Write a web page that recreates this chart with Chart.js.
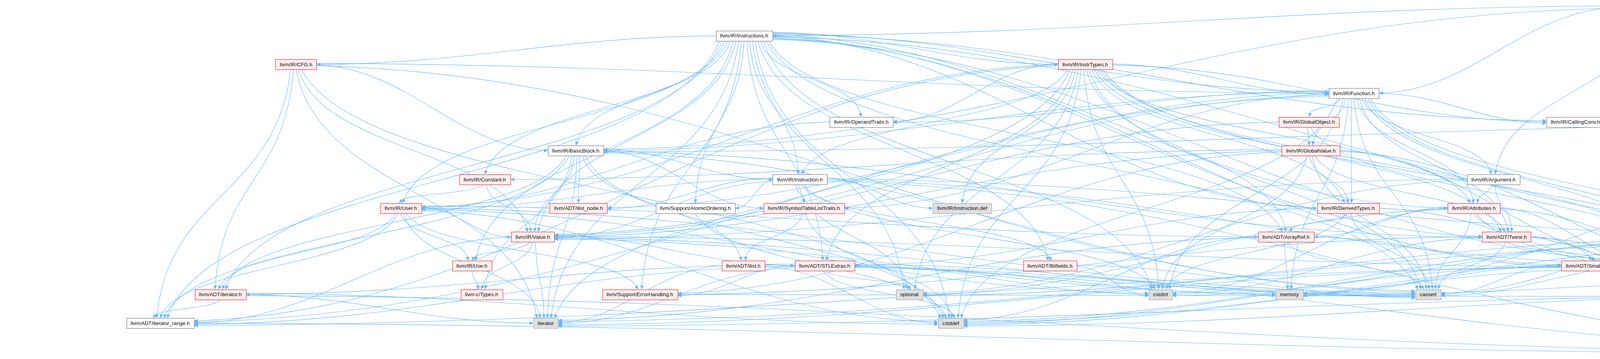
<!DOCTYPE html>
<html>
<head>
<meta charset="utf-8">
<title>SSAContext.cpp include graph</title>
<script src="https://cdn.jsdelivr.net/npm/chart.js@4.4.0/dist/chart.umd.min.js"></script>
<style>
  html, body { margin: 0; padding: 0; background: #fff; overflow: hidden; }
  #wrap { width: 5619px; height: 920px; }
</style>
</head>
<body>
<div id="wrap"><canvas id="graph" width="5619" height="920"></canvas></div>
<script>
// nodes of the include graph: id, label, x position (graph units), rank (row), kind
const nodeIds = [
  'root', 'instrs', 'cfg', 'instrtypes', 'function', 'optraits', 'globalobject', 'callingconv', 'ssah',
  'bb', 'globalvalue', 'genericssa', 'constant', 'instruction', 'argument', 'printable',
  'user', 'ilistnode', 'atomic', 'stlt', 'instrdef', 'derivedtypes', 'attributes',
  'value', 'arrayref', 'twine', 'rawostream', 'debugloc', 'mapvector',
  'use', 'ilist', 'stlextras', 'bitfields', 'smallvector', 'stringref', 'datatypes', 'mst',
  'iterh', 'types', 'errh', 'optional', 'cstdint', 'memory', 'cassert', 'string', 'denseset',
  'iterrange', 'iterstd', 'cstddef', 'utility'
];
const nodeLabels = [
  'lib/IR/SSAContext.cpp', 'llvm/IR/Instructions.h', 'llvm/IR/CFG.h', 'llvm/IR/InstrTypes.h', 'llvm/IR/Function.h',
  'llvm/IR/OperandTraits.h', 'llvm/IR/GlobalObject.h', 'llvm/IR/CallingConv.h', 'llvm/IR/SSAContext.h',
  'llvm/IR/BasicBlock.h', 'llvm/IR/GlobalValue.h', 'llvm/ADT/GenericSSAContext.h', 'llvm/IR/Constant.h',
  'llvm/IR/Instruction.h', 'llvm/IR/Argument.h', 'llvm/Support/Printable.h',
  'llvm/IR/User.h', 'llvm/ADT/ilist_node.h', 'llvm/Support/AtomicOrdering.h', 'llvm/IR/SymbolTableListTraits.h',
  'llvm/IR/Instruction.def', 'llvm/IR/DerivedTypes.h', 'llvm/IR/Attributes.h',
  'llvm/IR/Value.h', 'llvm/ADT/ArrayRef.h', 'llvm/ADT/Twine.h', 'llvm/Support/raw_ostream.h', 'llvm/IR/DebugLoc.h',
  'llvm/ADT/MapVector.h',
  'llvm/IR/Use.h', 'llvm/ADT/ilist.h', 'llvm/ADT/STLExtras.h', 'llvm/ADT/Bitfields.h', 'llvm/ADT/SmallVector.h',
  'llvm/ADT/StringRef.h', 'llvm/Support/DataTypes.h', 'llvm/IR/ModuleSlotTracker.h',
  'llvm/ADT/iterator.h', 'llvm-c/Types.h', 'llvm/Support/ErrorHandling.h', 'optional', 'cstdint', 'memory',
  'cassert', 'string', 'llvm/ADT/DenseSet.h',
  'llvm/ADT/iterator_range.h', 'iterator', 'cstddef', 'utility'
];
const nodeX = [
  4220, 1905, 758, 2778, 3466, 2205, 3351, 4033, 5187,
  1474, 3356, 5509, 1241, 2048, 3823, 5497,
  1026, 1481, 1780, 2058, 2463, 3451, 3773,
  1364, 3292, 3857, 4492, 4677, 4846,
  1208, 1903, 2111, 2688, 4078, 4308, 4643, 5366,
  564, 1233, 1638, 2328, 2971, 3301, 3656, 4644, 4769,
  410, 1397, 2434, 4881
];
const nodeRank = [
  0, 1, 2, 2, 3, 4, 4, 4, 4,
  5, 5, 5, 6, 6, 6, 6,
  7, 7, 7, 7, 7, 7, 7,
  8, 8, 8, 8, 8, 8,
  9, 9, 9, 9, 9, 9, 9, 9,
  10, 10, 10, 10, 10, 10, 10, 10, 10,
  11, 11, 11, 12
];
// root = the file itself, file = fully shown header, trunc = header with hidden includes, sys = system header
const nodeKind = [
  'root', 'file', 'trunc', 'trunc', 'file', 'file', 'trunc', 'file', 'file',
  'file', 'trunc', 'file', 'trunc', 'file', 'file', 'trunc',
  'trunc', 'trunc', 'file', 'trunc', 'sys', 'trunc', 'trunc',
  'trunc', 'trunc', 'trunc', 'trunc', 'trunc', 'trunc',
  'trunc', 'trunc', 'trunc', 'trunc', 'trunc', 'trunc', 'trunc', 'trunc',
  'trunc', 'trunc', 'trunc', 'sys', 'sys', 'sys', 'sys', 'sys', 'trunc',
  'file', 'sys', 'sys', 'sys'
];

// include edges: [includer, included]
const edges = [
  ['root', 'ssah'], ['root', 'argument'], ['root', 'bb'], ['root', 'function'], ['root', 'instrs'], ['root', 'rawostream'],

  ['instrs', 'arrayref'], ['instrs', 'bitfields'], ['instrs', 'mapvector'], ['instrs', 'stlextras'], ['instrs', 'smallvector'],
  ['instrs', 'stringref'], ['instrs', 'twine'], ['instrs', 'iterh'], ['instrs', 'iterrange'], ['instrs', 'attributes'],
  ['instrs', 'bb'], ['instrs', 'callingconv'], ['instrs', 'cfg'], ['instrs', 'constant'], ['instrs', 'derivedtypes'],
  ['instrs', 'function'], ['instrs', 'instrtypes'], ['instrs', 'instruction'], ['instrs', 'optraits'], ['instrs', 'use'],
  ['instrs', 'user'], ['instrs', 'value'], ['instrs', 'atomic'], ['instrs', 'errh'], ['instrs', 'cassert'],
  ['instrs', 'cstddef'], ['instrs', 'cstdint'], ['instrs', 'iterstd'], ['instrs', 'optional'],

  ['cfg', 'iterh'], ['cfg', 'iterrange'], ['cfg', 'bb'], ['cfg', 'function'], ['cfg', 'value'], ['cfg', 'cassert'],
  ['cfg', 'cstddef'], ['cfg', 'iterstd'],

  ['instrtypes', 'arrayref'], ['instrtypes', 'stlextras'], ['instrtypes', 'stringref'], ['instrtypes', 'twine'],
  ['instrtypes', 'iterrange'], ['instrtypes', 'attributes'], ['instrtypes', 'callingconv'], ['instrtypes', 'derivedtypes'],
  ['instrtypes', 'function'], ['instrtypes', 'instruction'], ['instrtypes', 'instrdef'], ['instrtypes', 'optraits'],
  ['instrtypes', 'user'], ['instrtypes', 'cassert'], ['instrtypes', 'cstddef'], ['instrtypes', 'cstdint'],
  ['instrtypes', 'iterstd'], ['instrtypes', 'optional'], ['instrtypes', 'string'],

  ['function', 'denseset'], ['function', 'stringref'], ['function', 'twine'], ['function', 'ilistnode'],
  ['function', 'iterrange'], ['function', 'argument'], ['function', 'attributes'], ['function', 'bb'],
  ['function', 'callingconv'], ['function', 'derivedtypes'], ['function', 'globalobject'], ['function', 'globalvalue'],
  ['function', 'optraits'], ['function', 'stlt'], ['function', 'value'], ['function', 'cassert'], ['function', 'cstddef'],
  ['function', 'cstdint'], ['function', 'memory'], ['function', 'string'],

  ['optraits', 'user'],
  ['globalobject', 'stringref'], ['globalobject', 'globalvalue'], ['globalobject', 'value'],
  ['ssah', 'genericssa'], ['ssah', 'bb'], ['ssah', 'mst'], ['ssah', 'printable'], ['ssah', 'memory'],

  ['bb', 'types'], ['bb', 'twine'], ['bb', 'ilist'], ['bb', 'ilistnode'], ['bb', 'iterh'], ['bb', 'iterrange'],
  ['bb', 'instruction'], ['bb', 'stlt'], ['bb', 'value'], ['bb', 'cassert'], ['bb', 'cstddef'], ['bb', 'iterstd'],

  ['globalvalue', 'stringref'], ['globalvalue', 'twine'], ['globalvalue', 'constant'], ['globalvalue', 'derivedtypes'],
  ['globalvalue', 'value'], ['globalvalue', 'errh'], ['globalvalue', 'cassert'], ['globalvalue', 'cstdint'],
  ['globalvalue', 'string'],

  ['genericssa', 'printable'],
  ['constant', 'user'], ['constant', 'value'],

  ['instruction', 'bitfields'], ['instruction', 'stringref'], ['instruction', 'ilistnode'], ['instruction', 'debugloc'],
  ['instruction', 'stlt'], ['instruction', 'user'], ['instruction', 'value'], ['instruction', 'atomic'],
  ['instruction', 'instrdef'], ['instruction', 'cstdint'], ['instruction', 'utility'], ['instruction', 'optional'],

  ['argument', 'twine'], ['argument', 'attributes'], ['argument', 'value'], ['argument', 'optional'],
  ['printable', 'utility'],

  ['user', 'arrayref'], ['user', 'iterh'], ['user', 'iterrange'], ['user', 'use'], ['user', 'value'], ['user', 'errh'],
  ['user', 'cassert'], ['user', 'cstddef'], ['user', 'cstdint'], ['user', 'iterstd'],

  ['atomic', 'cstddef'],
  ['stlt', 'ilist'], ['stlt', 'cstddef'],

  ['derivedtypes', 'arrayref'], ['derivedtypes', 'stlextras'], ['derivedtypes', 'stringref'], ['derivedtypes', 'cassert'],
  ['derivedtypes', 'cstdint'],

  ['attributes', 'arrayref'], ['attributes', 'smallvector'], ['attributes', 'stringref'], ['attributes', 'cassert'],
  ['attributes', 'cstdint'], ['attributes', 'optional'], ['attributes', 'string'], ['attributes', 'utility'],

  ['value', 'types'], ['value', 'stlextras'], ['value', 'stringref'], ['value', 'iterrange'], ['value', 'use'],
  ['value', 'cassert'], ['value', 'iterstd'], ['value', 'memory'],

  ['arrayref', 'smallvector'], ['arrayref', 'cassert'], ['arrayref', 'cstddef'], ['arrayref', 'iterstd'], ['arrayref', 'memory'],

  ['twine', 'smallvector'], ['twine', 'stringref'], ['twine', 'errh'], ['twine', 'cassert'], ['twine', 'cstdint'], ['twine', 'string'],

  ['rawostream', 'smallvector'], ['rawostream', 'stringref'], ['rawostream', 'datatypes'], ['rawostream', 'cassert'],
  ['rawostream', 'cstddef'], ['rawostream', 'cstdint'], ['rawostream', 'optional'], ['rawostream', 'string'],

  ['debugloc', 'datatypes'],
  ['mapvector', 'smallvector'], ['mapvector', 'cstddef'], ['mapvector', 'iterstd'], ['mapvector', 'utility'],
  ['use', 'types'],
  ['ilist', 'cassert'], ['ilist', 'cstddef'], ['ilist', 'iterstd'],

  ['stlextras', 'iterh'], ['stlextras', 'iterrange'], ['stlextras', 'errh'], ['stlextras', 'cassert'], ['stlextras', 'cstddef'],
  ['stlextras', 'cstdint'], ['stlextras', 'iterstd'], ['stlextras', 'memory'], ['stlextras', 'optional'], ['stlextras', 'utility'],

  ['bitfields', 'cassert'], ['bitfields', 'cstdint'],
  ['smallvector', 'cassert'], ['smallvector', 'cstddef'], ['smallvector', 'iterstd'], ['smallvector', 'memory'], ['smallvector', 'utility'],
  ['stringref', 'iterrange'], ['stringref', 'cassert'], ['stringref', 'cstddef'], ['stringref', 'string'], ['stringref', 'utility'],
  ['mst', 'memory'], ['mst', 'utility'],
  ['iterh', 'iterrange'], ['iterh', 'cstddef'], ['iterh', 'iterstd'], ['iterh', 'utility'],
  ['errh', 'string'],
  ['denseset', 'cstddef'], ['denseset', 'iterstd'], ['denseset', 'utility'],
  ['iterrange', 'utility']
];

const kindStyle = {
  root:  { fill: '#999999', stroke: '#666666' },
  file:  { fill: '#ffffff', stroke: '#666666' },
  trunc: { fill: '#fff0f0', stroke: '#ff0000' },
  sys:   { fill: '#e0e0e0', stroke: '#999999' }
};
const EDGE_COLOR = '#63b8ff';
const BOX_H = 26;

function routeEdges(box) {
  const routes = edges.map(([a, b]) => {
    const A = box[a], B = box[b];
    const dx = B.cx - A.cx, dy = B.cy - A.cy;
    return { A, B, dx, dy, side: Math.abs(dx) > 3.2 * dy, dir: dx >= 0 ? 1 : -1 };
  });
  const gIn = {}, gOut = {};
  routes.forEach(r => {
    const ki = r.B.id + (r.side ? (r.dir > 0 ? 'L' : 'R') : 'T');
    (gIn[ki] = gIn[ki] || []).push(r);
    const ko = r.A.id + (r.side ? (r.dir > 0 ? 'R' : 'L') : 'B');
    (gOut[ko] = gOut[ko] || []).push(r);
  });
  Object.entries(gIn).forEach(([k, g]) => {
    const t = k.slice(-1), n = g.length;
    if (t === 'T') {
      g.sort((p, q) => p.A.cx - q.A.cx);
      const span = Math.min(g[0].B.w - 14, (n - 1) * 9);
      g.forEach((r, i) => {
        r.ex = r.B.cx - span / 2 + (n > 1 ? i * span / (n - 1) : 0);
        r.ey = r.B.cy - BOX_H / 2;
      });
    } else {
      g.sort((p, q) => (p.A.cy - q.A.cy) || (p.A.cx - q.A.cx));
      const span = Math.min(BOX_H - 8, (n - 1) * 3);
      g.forEach((r, i) => {
        r.ex = r.B.cx + (t === 'L' ? -1 : 1) * r.B.w / 2;
        r.ey = r.B.cy - span / 2 + (n > 1 ? i * span / (n - 1) : 0);
      });
    }
  });
  Object.entries(gOut).forEach(([k, g]) => {
    const t = k.slice(-1), n = g.length;
    if (t === 'B') {
      g.sort((p, q) => p.dx / p.dy - q.dx / q.dy);
      const span = Math.min(g[0].A.w - 14, (n - 1) * 7);
      g.forEach((r, i) => {
        r.sx = r.A.cx - span / 2 + (n > 1 ? i * span / (n - 1) : 0);
        r.sy = r.A.cy + BOX_H / 2;
      });
    } else {
      g.sort((p, q) => p.B.cy - q.B.cy);
      const span = Math.min(BOX_H - 8, (n - 1) * 3);
      g.forEach((r, i) => {
        r.sx = r.A.cx + (t === 'R' ? 1 : -1) * r.A.w / 2;
        r.sy = r.A.cy - span / 2 + (n > 1 ? i * span / (n - 1) : 0);
      });
    }
  });
  return routes;
}

const graphPlugin = {
  id: 'includeGraph',
  afterDatasetsDraw(chart) {
    const ctx = chart.ctx, xs = chart.scales.x, ys = chart.scales.y;
    ctx.save();
    ctx.font = '13.3px "Liberation Sans", Arial, sans-serif';
    const box = {};
    nodeIds.forEach((id, i) => {
      box[id] = {
        id,
        cx: xs.getPixelForValue(nodeX[i]),
        cy: ys.getPixelForValue(nodeRank[i]),
        w: Math.round(ctx.measureText(nodeLabels[i]).width + 22)
      };
    });

    // edges
    ctx.strokeStyle = EDGE_COLOR;
    ctx.fillStyle = EDGE_COLOR;
    ctx.lineWidth = 1.1;
    routeEdges(box).forEach(r => {
      const ddx = r.ex - r.sx, ddy = r.ey - r.sy;
      const c1 = r.side ? [r.sx + 0.4 * ddx, r.sy + 0.05 * ddy] : [r.sx + 0.1 * ddx, r.sy + 0.5 * ddy];
      const c2 = r.side ? [r.ex - 0.4 * ddx, r.ey - 0.05 * ddy] : [r.ex - 0.1 * ddx, r.ey - 0.5 * ddy];
      let ux = r.ex - c2[0], uy = r.ey - c2[1];
      const len = Math.hypot(ux, uy) || 1;
      ux /= len; uy /= len;
      const bx = r.ex - ux * 10, by = r.ey - uy * 10;
      ctx.beginPath();
      ctx.moveTo(r.sx, r.sy);
      ctx.bezierCurveTo(c1[0], c1[1], c2[0], c2[1], bx, by);
      ctx.stroke();
      ctx.beginPath();
      ctx.moveTo(r.ex, r.ey);
      ctx.lineTo(bx - uy * 4.5, by + ux * 4.5);
      ctx.lineTo(bx + uy * 4.5, by - ux * 4.5);
      ctx.closePath();
      ctx.fill();
    });

    // nodes
    ctx.lineWidth = 1;
    ctx.textAlign = 'center';
    ctx.textBaseline = 'middle';
    nodeIds.forEach((id, i) => {
      const b = box[id], st = kindStyle[nodeKind[i]];
      const x0 = Math.round(b.cx - b.w / 2) + 0.5, y0 = Math.round(b.cy - BOX_H / 2) + 0.5;
      ctx.fillStyle = st.fill;
      ctx.fillRect(x0, y0, b.w, BOX_H);
      ctx.strokeStyle = st.stroke;
      ctx.strokeRect(x0, y0, b.w, BOX_H);
      ctx.fillStyle = '#000000';
      ctx.fillText(nodeLabels[i], b.cx, b.cy + 1);
    });
    ctx.restore();
  }
};

new Chart(document.getElementById('graph'), {
  type: 'scatter',
  data: {
    datasets: [{
      label: 'headers',
      data: nodeIds.map((id, i) => ({ x: nodeX[i], y: nodeRank[i] })),
      pointRadius: 0
    }]
  },
  options: {
    responsive: false,
    animation: false,
    devicePixelRatio: 1,
    layout: { padding: 0 },
    plugins: { legend: { display: false }, tooltip: { enabled: false } },
    scales: {
      x: { type: 'linear', display: false, min: 0, max: 5619 },
      y: { type: 'linear', display: false, reverse: true, min: -0.2443, max: 12.2443 }
    }
  },
  plugins: [graphPlugin]
});
</script>
</body>
</html>
